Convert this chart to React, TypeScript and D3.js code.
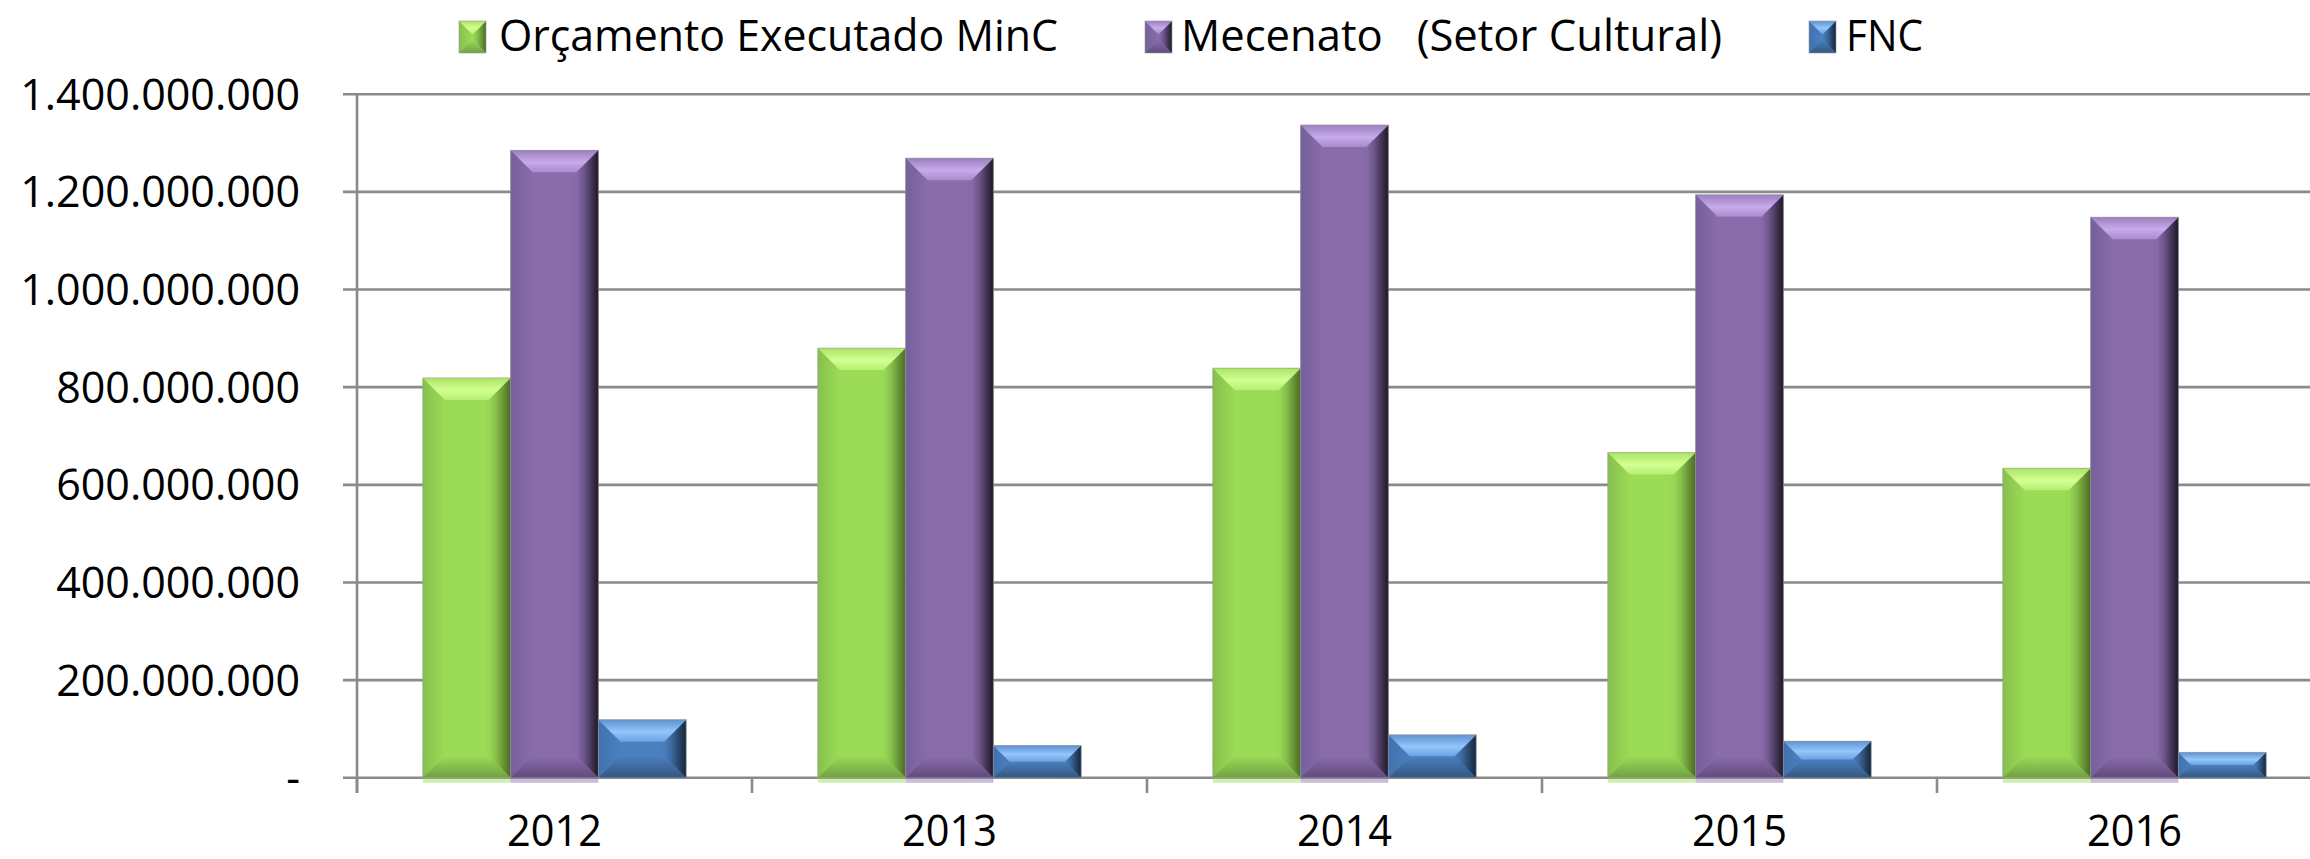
import React from "react";
import * as d3 from "d3";

const years = ["2012", "2013", "2014", "2015", "2016"];
const seriesNames = ["Orçamento Executado MinC", "Mecenato   (Setor Cultural)", "FNC"];
const orcamento = [819e6, 880e6, 839e6, 666e6, 634e6];
const mecenato = [1285e6, 1269e6, 1337e6, 1194e6, 1148e6];
const fnc = [119e6, 66e6, 88e6, 75e6, 52e6];
const yTicks = [0, 200e6, 400e6, 600e6, 800e6, 1000e6, 1200e6, 1400e6];
const yTickLabels = ["-", "200.000.000", "400.000.000", "600.000.000", "800.000.000", "1.000.000.000", "1.200.000.000", "1.400.000.000"];

const W = 2310;
const H = 859;
const FONT = "'Open Sans', 'Noto Sans', sans-serif";

type Pal = { id: string; face: string; edgeL: string; top1: string; top2: string; top3: string; bottom: string; right1: string; right2: string; shadow: boolean };
const palettes: Pal[] = [
  { id: "g", face: "#9BDB56", edgeL: "#86C04C", top1: "#A9E464", top2: "#D3FF93", top3: "#B6EE72", bottom: "#71A043", right1: "#86BE4A", right2: "#4A6B24", shadow: true },
  { id: "p", face: "#8A6CAB", edgeL: "#74609A", top1: "#9A7EBD", top2: "#C7ABEA", top3: "#A98BCF", bottom: "#604C7C", right1: "#6C568A", right2: "#1E1726", shadow: true },
  { id: "b", face: "#4A7FC0", edgeL: "#4272AE", top1: "#5F93D2", top2: "#93C6FA", top3: "#6BA1E0", bottom: "#34577F", right1: "#3C679C", right2: "#15243A", shadow: false },
];

const values = [orcamento, mecenato, fnc];

function Bevel({ x, y, w, h, pal, maxB }: { x: number; y: number; w: number; h: number; pal: Pal; maxB: number }) {
  const b = Math.min(maxB, h / 2, w / 2);
  const x2 = x + w;
  const y2 = y + h;
  const top = `M${x},${y}L${x2},${y}L${x2 - b},${y + b}L${x + b},${y + b}Z`;
  const bottom = `M${x},${y2}L${x2},${y2}L${x2 - b},${y2 - b}L${x + b},${y2 - b}Z`;
  const left = `M${x},${y}L${x + b},${y + b}L${x + b},${y2 - b}L${x},${y2}Z`;
  const right = `M${x2},${y}L${x2 - b},${y + b}L${x2 - b},${y2 - b}L${x2},${y2}Z`;
  return (
    <g>
      <rect x={x} y={y} width={w} height={h} fill={`url(#face-${pal.id})`} />
      <path d={left} fill={`url(#left-${pal.id})`} />
      <path d={right} fill={`url(#right-${pal.id})`} />
      <path d={bottom} fill={`url(#bottom-${pal.id})`} />
      <path d={top} fill={`url(#top-${pal.id})`} />
      <rect x={x} y={y} width={w} height={h} fill="none" stroke="#9a9a9a" strokeOpacity={0.6} strokeWidth={1} />
    </g>
  );
}

export default function App() {
  const x = d3.scaleBand<string>().domain(years).range([357, 2332]).paddingInner(0).paddingOuter(0);
  const xs = d3.scaleBand<string>().domain(seriesNames).range([0, x.bandwidth()]).paddingInner(0).paddingOuter(0.75);
  const y = d3.scaleLinear().domain([0, 1400e6]).range([777.8, 94.2]);
  const grid = "#8a8a8a";

  const legendItems = [
    { mx: 459, tx: 499, tw: 559 },
    { mx: 1145, tx: 1181, tw: 541 },
    { mx: 1809, tx: 1846, tw: 77 },
  ];

  return (
    <svg width={W} height={H} style={{ position: "absolute", left: 0, top: 0, display: "block", background: "#fff" }}>
      <defs>
        {palettes.map((p) => (
          <React.Fragment key={p.id}>
            <linearGradient id={`face-${p.id}`} x1="0" y1="0" x2="1" y2="0">
              <stop offset="0" stopColor={p.edgeL} />
              <stop offset="0.1" stopColor={p.face} />
              <stop offset="0.7" stopColor={p.face} />
              <stop offset="1" stopColor={p.right1} />
            </linearGradient>
            <linearGradient id={`left-${p.id}`} x1="0" y1="0" x2="1" y2="0">
              <stop offset="0" stopColor={p.edgeL} />
              <stop offset="1" stopColor={p.face} />
            </linearGradient>
            <linearGradient id={`right-${p.id}`} x1="0" y1="0" x2="1" y2="0">
              <stop offset="0" stopColor={p.face} />
              <stop offset="0.35" stopColor={p.right1} />
              <stop offset="1" stopColor={p.right2} />
            </linearGradient>
            <linearGradient id={`top-${p.id}`} x1="0" y1="0" x2="0" y2="1">
              <stop offset="0" stopColor={p.top1} />
              <stop offset="0.55" stopColor={p.top2} />
              <stop offset="1" stopColor={p.top3} />
            </linearGradient>
            <linearGradient id={`bottom-${p.id}`} x1="0" y1="0" x2="0" y2="1">
              <stop offset="0" stopColor={p.face} />
              <stop offset="1" stopColor={p.bottom} />
            </linearGradient>
          </React.Fragment>
        ))}
      </defs>

      {yTicks.map((t) => (
        <line key={t} x1={343} x2={W} y1={y(t)} y2={y(t)} stroke={grid} strokeWidth={2.6} />
      ))}
      <line x1={357} x2={357} y1={y(1400e6)} y2={793} stroke={grid} strokeWidth={2.6} />
      {years.map((yr) => (
        <line key={yr} x1={x(yr)!} x2={x(yr)!} y1={y(0)} y2={793} stroke={grid} strokeWidth={2.6} />
      ))}
      <line x1={x("2016")! + x.bandwidth()} x2={x("2016")! + x.bandwidth()} y1={y(0)} y2={793} stroke={grid} strokeWidth={2.6} />

      {yTicks.map((t, i) => (
        <text key={t} x={300} y={y(t) + 15.5} textAnchor="end" fontFamily={FONT} fontSize={43} fill="#000">
          {yTickLabels[i]}
        </text>
      ))}

      {years.map((yr, i) => (
        <g key={yr}>
          {seriesNames.map((s, k) => {
            const bx = x(yr)! + xs(s)!;
            const bw = xs.bandwidth();
            const by = y(values[k][i]);
            const bh = y(0) - by;
            const pal = palettes[k];
            return (
              <g key={s}>
                {pal.shadow && <rect x={bx} y={y(0)} width={bw} height={5} fill={pal.face} opacity={0.45} />}
                <Bevel x={bx} y={by} w={bw} h={bh} pal={pal} maxB={22} />
              </g>
            );
          })}
          <text x={x(yr)! + x.bandwidth() / 2} y={846} textAnchor="middle" fontFamily={FONT} fontSize={43} fill="#000" textLength={95} lengthAdjust="spacingAndGlyphs">
            {yr}
          </text>
        </g>
      ))}

      {seriesNames.map((s, k) => (
        <g key={s}>
          <Bevel x={legendItems[k].mx} y={21} w={27} h={32} pal={palettes[k]} maxB={13} />
          <text x={legendItems[k].tx} y={51} fontFamily={FONT} fontSize={43} fill="#000" textLength={legendItems[k].tw} lengthAdjust="spacingAndGlyphs" style={{ whiteSpace: "pre" }}>
            {s}
          </text>
        </g>
      ))}
    </svg>
  );
}
